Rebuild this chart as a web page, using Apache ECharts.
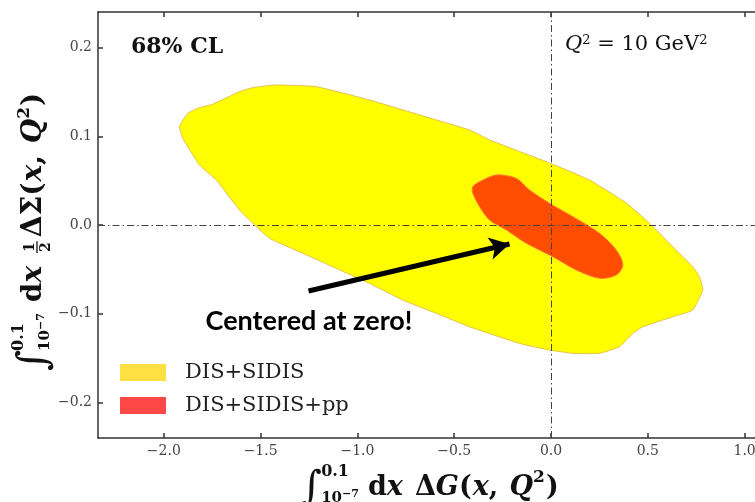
<!DOCTYPE html>
<html>
<head>
<meta charset="utf-8">
<script src="https://cdn.jsdelivr.net/npm/echarts@6/dist/echarts.min.js"></script>
<style>
  html, body { margin: 0; padding: 0; background: #fff; }
  #chart { width: 755px; height: 502px; }
</style>
</head>
<body>
<div id="chart"></div>
<script>
// 68% CL contours of the truncated moments (ΔG, ½ΔΣ) at Q² = 10 GeV²
const seriesNames = ['DIS+SIDIS', 'DIS+SIDIS+pp'];

// contour outline of the DIS+SIDIS fit: [ΔG moment, ½ΔΣ moment]
const contourDisSidis = [
  [-1.919, 0.1108], [-1.876, 0.1259], [-1.816, 0.1322], [-1.747, 0.1361], [-1.609, 0.1503],
  [-1.540, 0.1548], [-1.419, 0.1578], [-1.213, 0.1559], [-0.938, 0.1409], [-0.679, 0.1240],
  [-0.421, 0.1071], [-0.317, 0.0958], [-0.008, 0.0699], [0.199, 0.0507], [0.388, 0.0248],
  [0.509, 0.0021], [0.629, -0.0245], [0.732, -0.0470], [0.767, -0.0583], [0.784, -0.0733],
  [0.732, -0.0958], [0.629, -0.1034], [0.474, -0.1147], [0.423, -0.1221], [0.354, -0.1372],
  [0.251, -0.1446], [0.113, -0.1446], [-0.008, -0.1409], [-0.163, -0.1334], [-0.421, -0.1147],
  [-0.593, -0.0995], [-0.766, -0.0846], [-0.938, -0.0657], [-1.110, -0.0488], [-1.282, -0.0319],
  [-1.454, -0.0150], [-1.540, 0.0019], [-1.609, 0.0169], [-1.729, 0.0507], [-1.816, 0.0676],
  [-1.902, 0.0977]
];

// contour outline of the DIS+SIDIS+pp fit
const contourWithPP = [
  [-0.404, 0.0432], [-0.369, 0.0488], [-0.283, 0.0564], [-0.180, 0.0526], [-0.111, 0.0395],
  [-0.008, 0.0245], [0.113, 0.0094], [0.251, -0.0094], [0.337, -0.0282], [0.371, -0.0451],
  [0.337, -0.0564], [0.251, -0.0601], [0.130, -0.0507], [0.009, -0.0357], [-0.128, -0.0206],
  [-0.231, -0.0056], [-0.318, 0.0056], [-0.369, 0.0206], [-0.404, 0.0357]
];

const xTicks = [-2.0, -1.5, -1.0, -0.5, 0.0, 0.5, 1.0];
const yTicks = [-0.2, -0.1, 0.0, 0.1, 0.2];

// annotation arrow (tail, head) in data units
const arrowTail = [-1.2526, -0.0744];
const arrowHead = [-0.2144, -0.0214];

const SERIF = "'DejaVu Serif', serif";
const INK = '#111';

function fmtTick(v) {
  const s = Math.abs(v).toFixed(1);
  return (v < 0 ? '\u2212' : '') + s;
}

// ---- small math-text layout helper (runs of text placed on a common baseline)
const mctx = document.createElement('canvas').getContext('2d');
function fontStr(r) {
  return (r.italic ? 'italic ' : '') + (r.bold ? 'bold ' : '') + r.size + 'px ' + (r.family || SERIF);
}
function placeRuns(runs, x, baseDy, out) {
  let cx = x;
  runs.forEach(r => {
    const font = fontStr(r);
    mctx.font = font;
    const w = mctx.measureText(r.t).width;
    out.push({
      type: 'text', x: cx, y: baseDy + (r.dy || 0) - 0.35 * r.size, silent: true,
      style: { text: r.t, font: font, fill: INK, align: 'left', verticalAlign: 'middle',
               textAlign: 'left', textVerticalAlign: 'middle' }
    });
    cx += w + (r.after || 0);
  });
  return cx - x;
}
function layoutMath(items) {
  const out = [];
  let x = 0;
  items.forEach(it => {
    if (it.gap) { x += it.gap; return; }
    if (it.stack) {
      let w = 0;
      it.stack.forEach(line => {
        const lw = placeRuns(line.runs, x + (line.dx || 0), line.dy, out) + (line.dx || 0);
        w = Math.max(w, lw);
      });
      if (it.bar !== undefined) {
        out.push({ type: 'line', silent: true,
          shape: { x1: x - 1, y1: it.bar, x2: x + w + 1, y2: it.bar },
          style: { stroke: INK, lineWidth: 1.3 } });
      }
      x += w;
      return;
    }
    x += placeRuns([it], x, 0, out);
  });
  return { children: out, width: x };
}

const integralPart = (T, g) => [
  { t: '\u222B', size: T + 13, dy: 6, after: -1 },
  { stack: [
      { dy: -20, runs: [{ t: '0.1', size: 16, bold: true }] },
      { dy: 6, runs: [{ t: '10', size: 15, bold: true }, { t: '\u22127', size: 11, bold: true, dy: -5 }] }
  ] },
  { gap: 8 + g },
  { t: 'd', size: T, bold: true },
  { t: 'x', size: T, bold: true, italic: true },
  { gap: 11 + g }
];
const tailPart = (T, sym) => [
  { t: '\u0394', size: T, bold: true },
  { t: sym, size: T, bold: true, italic: sym === 'G' },
  { t: '(', size: T, bold: true, after: 1 },
  { t: 'x', size: T, bold: true, italic: true },
  { t: ', ', size: T, bold: true, after: 2 },
  { t: 'Q', size: T, bold: true, italic: true },
  { t: '2', size: 17, bold: true, dy: -13, after: 1 },
  { t: ')', size: T, bold: true }
];
const xTitle = layoutMath(integralPart(27, 1).concat(tailPart(27, 'G')));
const yTitle = layoutMath(integralPart(28, 3).concat([
  { stack: [
      { dy: -9, runs: [{ t: '1', size: 14, bold: true }] },
      { dy: 7, runs: [{ t: '2', size: 14, bold: true }] }
  ], bar: -7 },
  { gap: 5 }
]).concat(tailPart(28, '\u03A3')));

// ---- chart
const chart = echarts.init(document.getElementById('chart'), null, { renderer: 'canvas' });

function contourSeries(name, pts, fill, stroke, legendColor, smooth, z) {
  return {
    type: 'custom', name: name, coordinateSystem: 'cartesian2d', z: z,
    data: pts, itemStyle: { color: legendColor }, silent: true,
    renderItem: function (params, api) {
      if (params.dataIndex !== 0) return null;
      const points = pts.map(p => api.coord(p));
      return {
        type: 'polygon',
        shape: { points: points, smooth: smooth },
        style: { fill: fill, stroke: stroke, lineWidth: 1 }
      };
    }
  };
}

const axisLineStyle = { color: '#333', width: 1.5 };
const labelStyle = { fontFamily: SERIF, fontSize: 14, color: '#444' };

const option = {
  backgroundColor: '#fff',
  animation: false,
  grid: { left: 98, top: 12, width: 666, height: 426, show: false, outerBoundsMode: 'none', containLabel: false },
  xAxis: [
    { type: 'value', min: -2.34, max: 1.1, position: 'bottom',
      axisLine: { show: true, onZero: false, lineStyle: axisLineStyle },
      axisTick: { show: true, inside: true, length: 5, customValues: xTicks, lineStyle: axisLineStyle },
      axisLabel: { show: true, margin: 6, customValues: xTicks, formatter: fmtTick, ...labelStyle },
      splitLine: { show: false } },
    { type: 'value', min: -2.34, max: 1.1, position: 'top',
      axisLine: { show: true, onZero: false, lineStyle: axisLineStyle },
      axisTick: { show: true, inside: true, length: 5, customValues: xTicks, lineStyle: axisLineStyle },
      axisLabel: { show: false }, splitLine: { show: false } }
  ],
  yAxis: [
    { type: 'value', min: -0.24, max: 0.24, position: 'left',
      axisLine: { show: true, onZero: false, lineStyle: axisLineStyle },
      axisTick: { show: true, inside: true, length: 5, customValues: yTicks, lineStyle: axisLineStyle },
      axisLabel: { show: true, margin: 6, customValues: yTicks, formatter: fmtTick, ...labelStyle },
      splitLine: { show: false } },
    { type: 'value', min: -0.24, max: 0.24, position: 'right',
      axisLine: { show: true, onZero: false, lineStyle: axisLineStyle },
      axisTick: { show: true, inside: true, length: 5, customValues: yTicks, lineStyle: axisLineStyle },
      axisLabel: { show: false }, splitLine: { show: false } }
  ],
  legend: {
    left: 120, top: 362, orient: 'vertical', icon: 'rect',
    itemWidth: 46, itemHeight: 17, itemGap: 12, padding: 0,
    textStyle: { fontFamily: SERIF, fontSize: 21, color: '#222', padding: [0, 0, 0, 14] },
    data: seriesNames
  },
  series: [
    contourSeries(seriesNames[0], contourDisSidis, '#FFFF00', '#E8C04A', '#FFE043', 0.12, 2),
    contourSeries(seriesNames[1], contourWithPP, '#FF4D00', '#FF7A3A', '#FF4848', 0.3, 3),
    {
      type: 'line', data: [], z: 6, silent: true,
      markLine: {
        silent: true, animation: false,
        symbol: ['none', 'none'],
        label: { show: false },
        lineStyle: { color: '#444', width: 1, type: [7, 3, 1.5, 3] },
        data: [{ xAxis: 0 }, { yAxis: 0 }]
      }
    },
    {
      type: 'line', data: [], z: 7, silent: true,
      markLine: {
        silent: true, animation: false,
        symbol: ['none', 'arrow'], symbolSize: [17, 20],
        label: { show: false },
        lineStyle: { color: '#000', width: 5, type: 'solid' },
        data: [[{ coord: arrowTail }, { coord: arrowHead }]]
      }
    }
  ],
  graphic: [
    { type: 'text', left: 131, top: 36, silent: true,
      style: { text: '68% CL', font: 'bold 22px ' + SERIF, fill: INK } },
    { type: 'text', left: 565, top: 34, silent: true,
      style: {
        text: '{q|Q}{s|2}{n| = 10 GeV}{s|2}',
        rich: {
          q: { fontFamily: SERIF, fontSize: 21, fontStyle: 'italic', fill: INK, color: INK },
          n: { fontFamily: SERIF, fontSize: 21, fill: INK, color: INK },
          s: { fontFamily: SERIF, fontSize: 13, fill: INK, color: INK, verticalAlign: 'top', padding: [0, 0, 8, 0] }
        }
      } },
    { type: 'text', x: 309, y: 321, silent: true,
      style: { text: 'Centered at zero!', font: "bold 27px Lato, 'Open Sans', sans-serif", fill: '#000',
               align: 'center', verticalAlign: 'middle', textAlign: 'center', textVerticalAlign: 'middle' } },
    { type: 'group', x: 430 - xTitle.width / 2, y: 497, children: xTitle.children, silent: true },
    { type: 'group', x: 44, y: 232 + yTitle.width / 2, rotation: Math.PI / 2, children: yTitle.children, silent: true }
  ]
};

chart.setOption(option);
</script>
</body>
</html>
